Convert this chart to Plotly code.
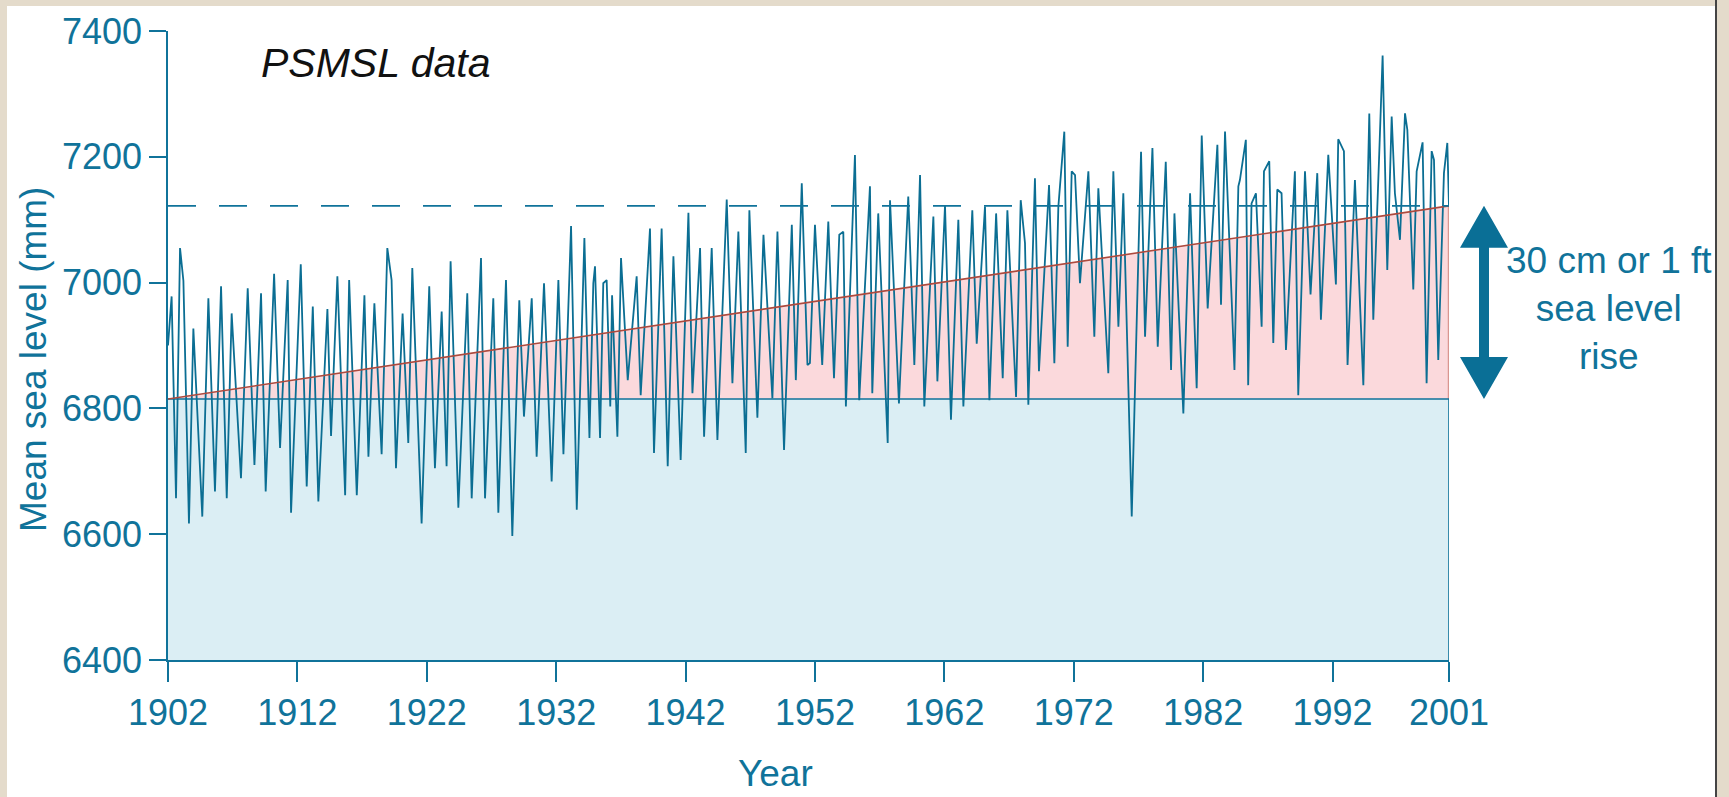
import plotly.graph_objects as go

# ---- data (decimal year, mean sea level in mm) ----
years = [
    1902.00, 1902.28, 1902.62, 1902.93, 1903.19, 1903.62, 1903.96, 1904.65, 1905.12, 1905.63,
    1906.10, 1906.54, 1906.92, 1907.64, 1908.16, 1908.68, 1909.19, 1909.55, 1910.20, 1910.66,
    1911.25, 1911.51, 1912.26, 1912.72, 1913.19, 1913.62, 1914.32, 1914.60, 1915.09, 1915.69,
    1916.00, 1916.59, 1917.18, 1917.49, 1917.95, 1918.51, 1918.95, 1919.28, 1919.62, 1920.13,
    1920.57, 1920.88, 1921.60, 1922.19, 1922.63, 1923.15, 1923.53, 1923.84, 1924.44, 1925.13,
    1925.47, 1926.19, 1926.50, 1927.14, 1927.53, 1928.12, 1928.61, 1929.15, 1929.51, 1930.11,
    1930.49, 1931.06, 1931.65, 1932.17, 1932.56, 1933.15, 1933.59, 1934.18, 1934.57, 1934.87,
    1935.00, 1935.39, 1935.64, 1935.90, 1936.18, 1936.32, 1936.73, 1937.01, 1937.53, 1938.22,
    1938.53, 1939.25, 1939.56, 1940.15, 1940.62, 1941.06, 1941.62, 1942.22, 1942.53, 1943.12,
    1943.43, 1944.02, 1944.46, 1945.18, 1945.62, 1946.08, 1946.65, 1946.93, 1947.55, 1948.02,
    1948.71, 1949.10, 1949.61, 1950.21, 1950.52, 1950.98, 1951.42, 1951.61, 1952.00, 1952.56,
    1953.03, 1953.47, 1953.88, 1954.19, 1954.39, 1955.09, 1955.42, 1956.25, 1956.43, 1956.89,
    1957.62, 1957.80, 1958.49, 1959.21, 1959.68, 1960.12, 1960.45, 1961.15, 1961.46, 1962.05,
    1962.51, 1963.08, 1963.47, 1964.16, 1964.50, 1965.14, 1965.48, 1966.00, 1966.51, 1966.87,
    1967.54, 1967.90, 1968.23, 1968.49, 1969.00, 1969.31, 1970.09, 1970.50, 1970.81, 1971.27,
    1971.53, 1971.84, 1972.10, 1972.48, 1973.13, 1973.59, 1973.90, 1974.67, 1975.06, 1975.45,
    1975.83, 1976.48, 1977.20, 1977.51, 1978.08, 1978.49, 1979.11, 1979.52, 1979.78, 1980.47,
    1980.99, 1981.50, 1981.89, 1982.35, 1983.10, 1983.38, 1983.69, 1984.42, 1984.72, 1984.84,
    1985.30, 1985.48, 1985.74, 1986.08, 1986.52, 1986.70, 1987.11, 1987.42, 1987.73, 1988.06,
    1988.40, 1989.09, 1989.35, 1989.87, 1990.30, 1990.82, 1991.10, 1991.67, 1992.26, 1992.44,
    1992.88, 1993.16, 1993.73, 1994.38, 1994.84, 1995.15, 1995.61, 1995.87, 1996.23, 1996.57,
    1996.82, 1997.21, 1997.60, 1997.78, 1998.24, 1998.50, 1998.96, 1999.27, 1999.66, 1999.84,
    2000.17, 2000.61, 2000.87, 2001.00,
]
sea_level_mm = [
    6900, 6978, 6657, 7055, 7003, 6617, 6927, 6628, 6975, 6668,
    6994, 6657, 6951, 6689, 6991, 6710, 6983, 6668, 7014, 6737,
    7004, 6634, 7029, 6676, 6962, 6652, 6958, 6756, 7010, 6662,
    7004, 6662, 6980, 6723, 6967, 6727, 7055, 7004, 6705, 6951,
    6745, 7023, 6617, 6994, 6705, 6954, 6708, 7034, 6642, 6983,
    6657, 7039, 6657, 6975, 6634, 7004, 6597, 6972, 6787, 6975,
    6723, 6999, 6684, 7004, 6727, 7090, 6639, 7071, 6753, 6999,
    7026, 6753, 6999, 7004, 6803, 6980, 6755, 7039, 6845, 7010,
    6821, 7086, 6729, 7086, 6708, 7042, 6718, 7111, 6824, 7055,
    6755, 7055, 6750, 7132, 6840, 7081, 6729, 7115, 6785, 7076,
    6816, 7081, 6734, 7092, 6845, 7158, 6869, 6872, 7092, 6869,
    7097, 6848, 7076, 7081, 6803, 7203, 6813, 7153, 6824, 7110,
    6745, 7131, 6808, 7137, 6869, 7171, 6803, 7105, 6843, 7123,
    6782, 7100, 6803, 7115, 6903, 7121, 6813, 7110, 6848, 7115,
    6818, 7131, 7063, 6806, 7166, 6859, 7155, 6872, 7121, 7240,
    6898, 7177, 7171, 6999, 7177, 6914, 7150, 6856, 7177, 6930,
    7142, 6628, 7208, 6914, 7214, 6898, 7192, 6861, 7110, 6792,
    7142, 6832, 7234, 6959, 7219, 6965, 7240, 6861, 7153, 7163,
    7227, 6837, 7126, 7142, 6930, 7177, 7193, 6904, 7148, 7142,
    6893, 7177, 6821, 7177, 6981, 7174, 6941, 7203, 6997, 7228,
    7209, 6869, 7163, 6837, 7269, 6941, 7206, 7361, 7020, 7264,
    7142, 7068, 7269, 7243, 6989, 7177, 7223, 6840, 7209, 7195,
    6877, 7174, 7222, 7121,
]

x_tick_years = [1902, 1912, 1922, 1932, 1942, 1952, 1962, 1972, 1982, 1992, 2001]
y_tick_values = [6400, 6600, 6800, 7000, 7200, 7400]
start_year, end_year = 1902, 2001
y_min, y_max = 6400, 7400
trend_start_mm = 6815   # trend level at 1902
trend_end_mm = 7122     # trend level at 2001

TEAL = "#10739a"
LINE = "#0b6e93"
FONT = "Liberation Sans, Arial, sans-serif"
BEIGE = "#e4dbcb"

fig = go.Figure()

# light-blue block under the 1902 level
fig.add_trace(go.Scatter(
    x=[start_year, end_year, end_year, start_year, start_year],
    y=[y_min, y_min, trend_start_mm, trend_start_mm, y_min],
    fill="toself", fillcolor="#dbeef4", mode="lines", line=dict(width=0),
    hoverinfo="skip", showlegend=False))
# pink rise triangle
fig.add_trace(go.Scatter(
    x=[start_year, end_year, end_year, start_year],
    y=[trend_start_mm, trend_end_mm, trend_start_mm, trend_start_mm],
    fill="toself", fillcolor="#fbd9dc", mode="lines", line=dict(width=0),
    hoverinfo="skip", showlegend=False))
# right edge of triangle
fig.add_trace(go.Scatter(
    x=[end_year, end_year], y=[trend_start_mm, trend_end_mm], mode="lines",
    line=dict(color="#d99690", width=2.5), hoverinfo="skip", showlegend=False))
# baseline + right edge of blue block
fig.add_trace(go.Scatter(
    x=[start_year, end_year, end_year], y=[trend_start_mm, trend_start_mm, y_min],
    mode="lines", line=dict(color=TEAL, width=1.6), hoverinfo="skip", showlegend=False))
# data
fig.add_trace(go.Scatter(
    x=years, y=sea_level_mm, mode="lines",
    line=dict(color=LINE, width=1.8), showlegend=False))
# trend line
fig.add_trace(go.Scatter(
    x=[start_year, end_year], y=[trend_start_mm, trend_end_mm], mode="lines",
    line=dict(color="#ad4a3e", width=1.6), hoverinfo="skip", showlegend=False))
# dashed level line
fig.add_trace(go.Scatter(
    x=[start_year, end_year], y=[trend_end_mm, trend_end_mm], mode="lines",
    line=dict(color=TEAL, width=1.6, dash="28px,23px"), hoverinfo="skip", showlegend=False))

# ---- layout geometry ----
W, H = 1729, 797
ml, mr, mt, mb = 168, 280, 31, 137
pw, ph = W - ml - mr, H - mt - mb

def px_x(p):
    return (p - ml) / pw

def px_y(p):
    return (H - mb - p) / ph

shapes = [
    # white card on beige texture background
    dict(type="rect", xref="paper", yref="paper", x0=px_x(7), x1=px_x(1715),
         y0=px_y(H + 5), y1=px_y(6), fillcolor="white", line=dict(width=0), layer="below"),
    dict(type="line", xref="paper", yref="paper", x0=px_x(1716), x1=px_x(1716),
         y0=px_y(H + 5), y1=px_y(0), line=dict(color="#444444", width=2)),
]

# double-headed arrow (x in paper, y in data units spanning the rise)
ax = px_x(1484)
hw = 24 / pw
sw = 5 / pw
head = 42 / ph * (y_max - y_min)
y0, y1 = trend_start_mm, trend_end_mm
pts = [
    (ax, y1), (ax + hw, y1 - head), (ax + sw, y1 - head),
    (ax + sw, y0 + head), (ax + hw, y0 + head), (ax, y0),
    (ax - hw, y0 + head), (ax - sw, y0 + head), (ax - sw, y1 - head),
    (ax - hw, y1 - head),
]
path = "M " + " L ".join(f"{x:.5f},{y:.2f}" for x, y in pts) + " Z"
shapes.append(dict(type="path", xref="paper", yref="y", path=path,
                   fillcolor="#0a6f96", line=dict(width=0)))

annotations = [
    dict(text="<i>PSMSL data</i>", xref="paper", yref="paper", x=px_x(375), y=px_y(63),
         showarrow=False, font=dict(family=FONT, size=41, color="#111111"),
         xanchor="center", yanchor="middle"),
    dict(text="30 cm or 1 ft<br>sea level<br>rise", xref="paper", yref="paper",
         x=px_x(1609), y=px_y(308), showarrow=False, align="center",
         font=dict(family=FONT, size=37, color=TEAL), xanchor="center", yanchor="middle"),
    dict(text="Mean sea level (mm)", xref="paper", yref="paper", x=px_x(33), y=px_y(360),
         showarrow=False, textangle=-90, font=dict(family=FONT, size=37, color=TEAL),
         xanchor="center", yanchor="middle"),
    dict(text="Year", xref="paper", yref="paper", x=px_x(775), y=px_y(773),
         showarrow=False, font=dict(family=FONT, size=37, color=TEAL),
         xanchor="center", yanchor="middle"),
]

fig.update_layout(
    width=W, height=H,
    margin=dict(l=ml, r=mr, t=mt, b=mb, autoexpand=False),
    paper_bgcolor=BEIGE, plot_bgcolor="white",
    shapes=shapes, annotations=annotations,
    xaxis=dict(range=[start_year, end_year], tickvals=x_tick_years,
               ticktext=[str(v) for v in x_tick_years],
               showline=True, linecolor=TEAL, linewidth=1.6, ticks="outside",
               ticklen=20, tickwidth=1.6, tickcolor=TEAL, showgrid=False, zeroline=False,
               tickfont=dict(family=FONT, size=36, color=TEAL)),
    yaxis=dict(range=[y_min, y_max], tickvals=y_tick_values,
               showline=True, linecolor=TEAL, linewidth=1.6, ticks="outside",
               ticklen=17, tickwidth=1.6, tickcolor=TEAL, showgrid=False, zeroline=False,
               tickfont=dict(family=FONT, size=36, color=TEAL)),
    hovermode=False,
)

fig.write_html(
    "out.html",
    config={"displayModeBar": False},
    post_script=(
        "document.body.style.margin='0';"
        "document.body.style.overflow='hidden';"
        "document.body.style.background='" + BEIGE + "';"
    ),
)
